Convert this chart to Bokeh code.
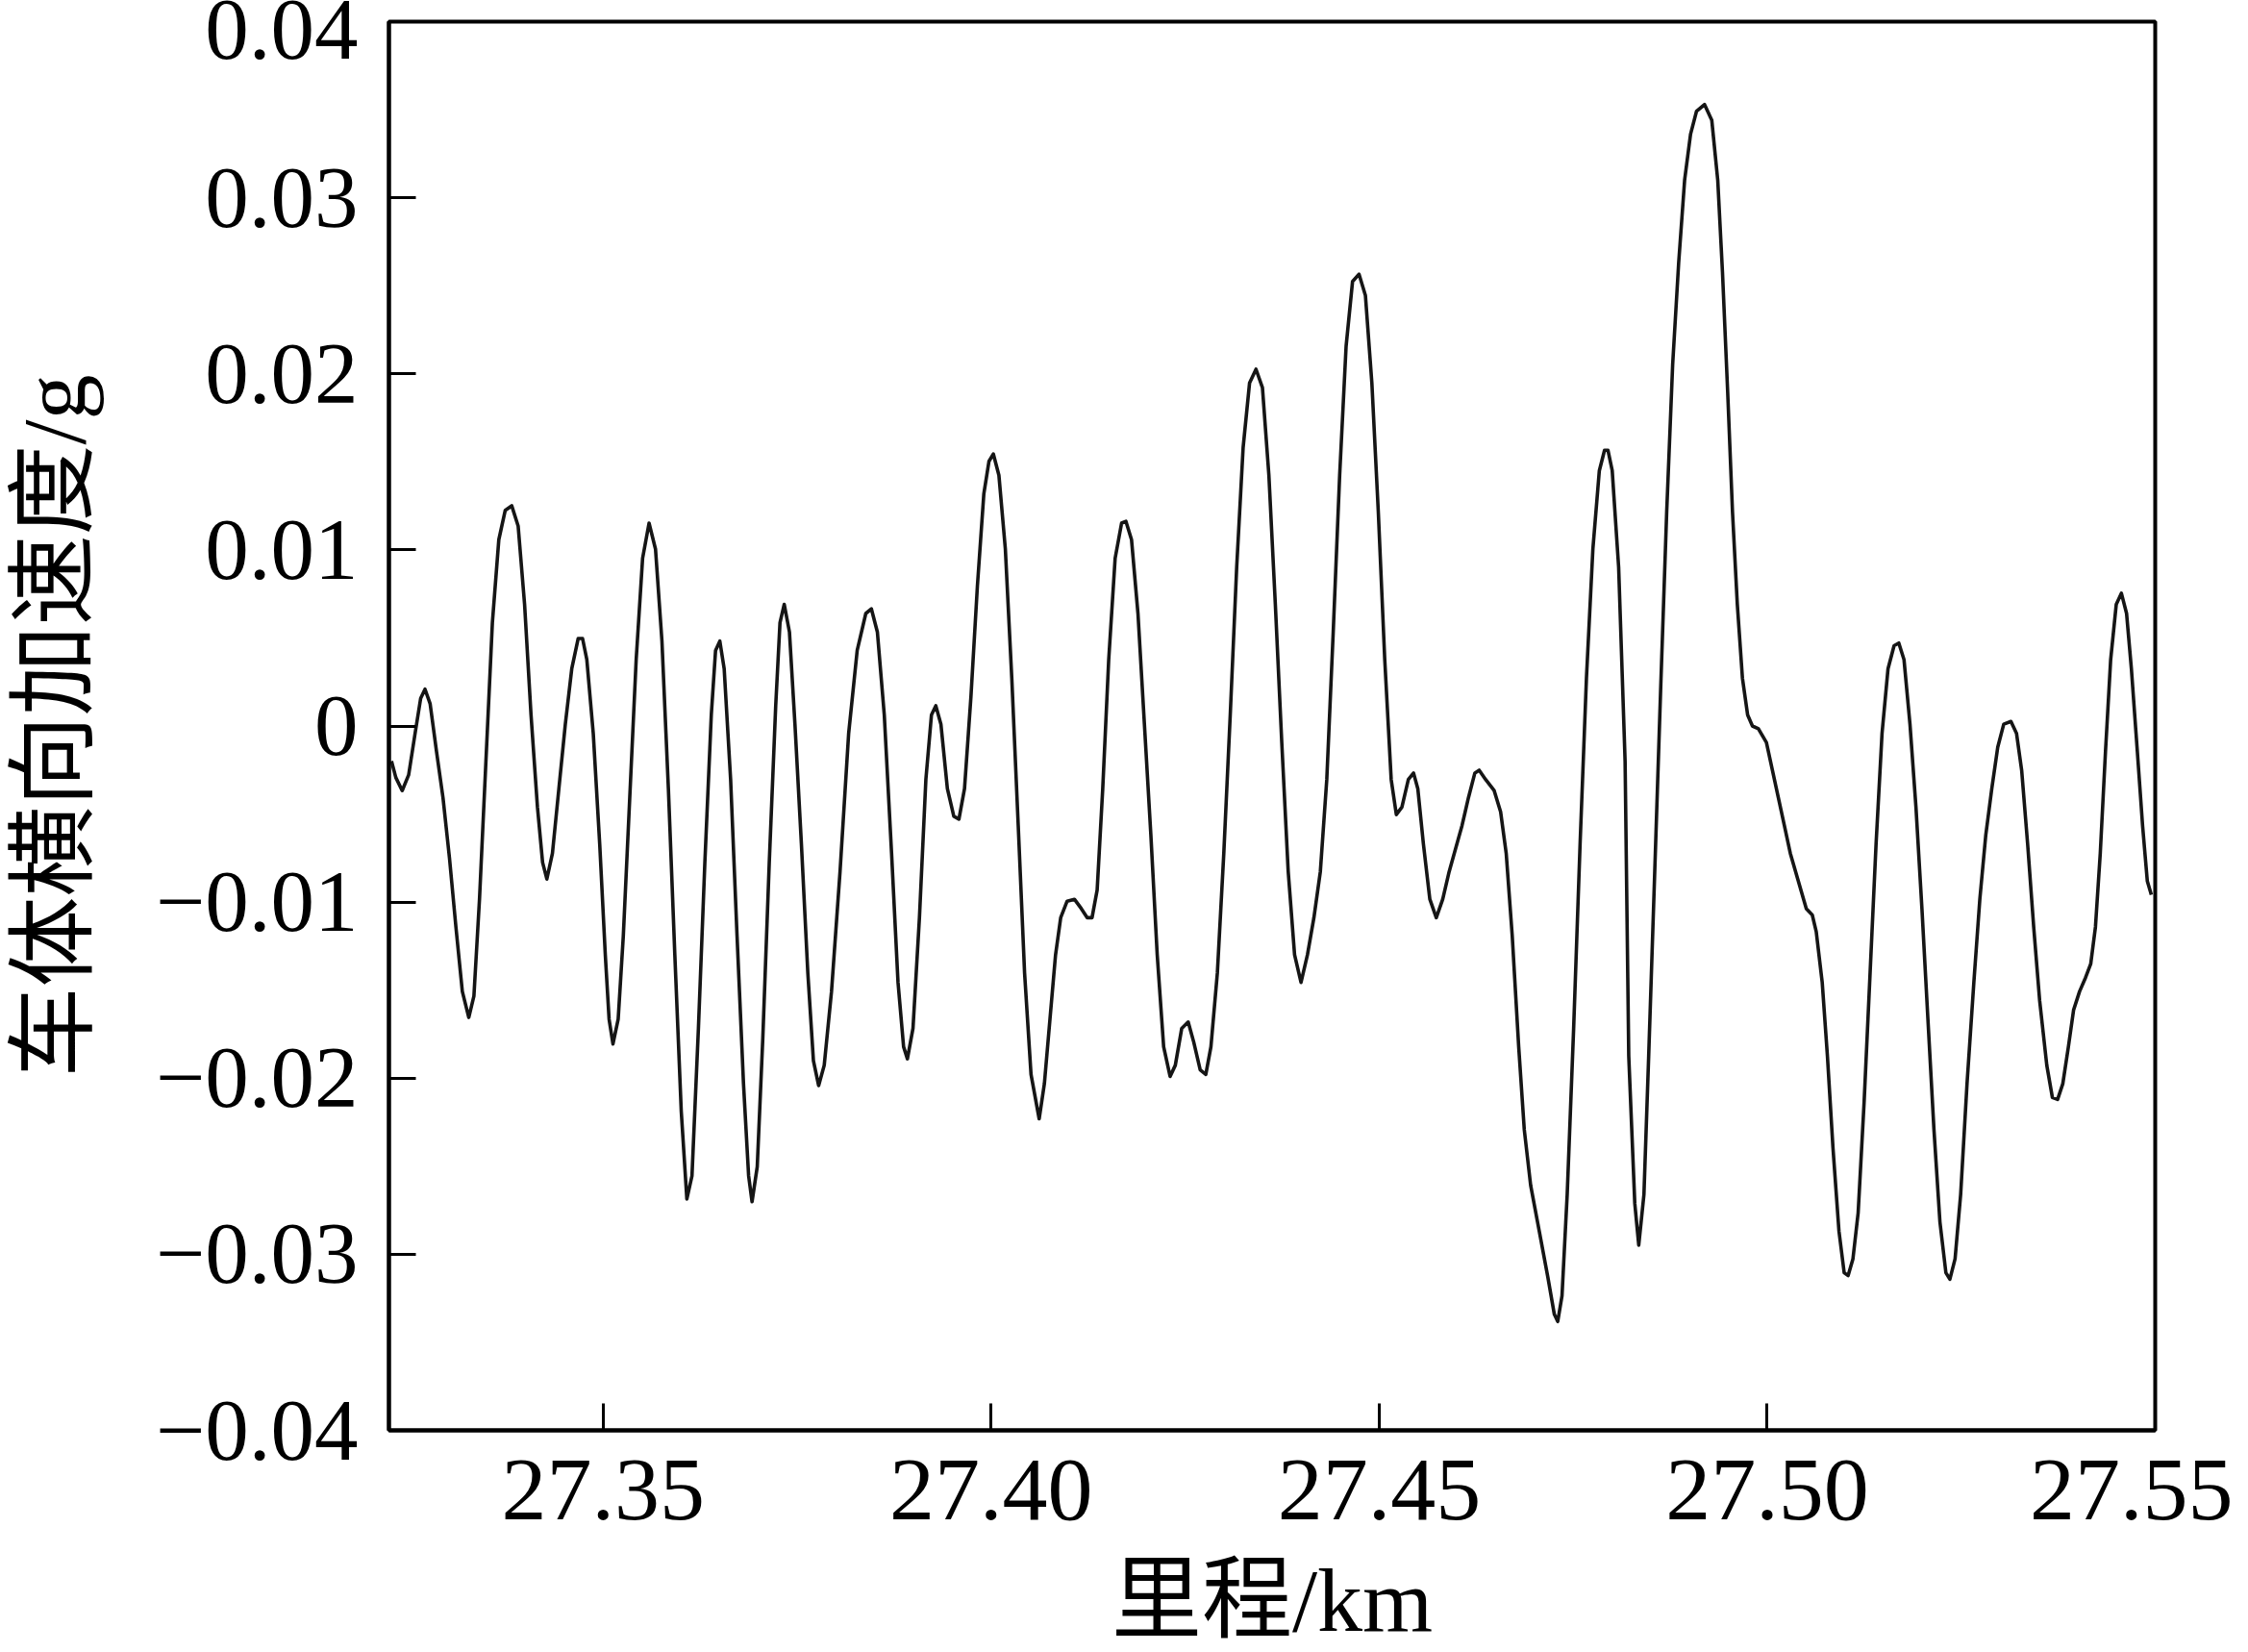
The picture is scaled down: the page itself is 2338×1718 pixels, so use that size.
from bokeh.plotting import figure
from bokeh.models import Range1d, FixedTicker, CustomJSTickFormatter
from bokeh.embed import file_html
from bokeh.resources import INLINE

# ---- data ----
distance_km = [
    27.32273, 27.32329, 27.32411, 27.32494, 27.32577, 27.32649, 27.32705, 27.32771, 27.32854, 27.32937,
    27.33020, 27.33103, 27.33186, 27.33269, 27.33335, 27.33407, 27.33490, 27.33573, 27.33656, 27.33739,
    27.33822, 27.33905, 27.33988, 27.34071, 27.34154, 27.34220, 27.34275, 27.34347, 27.34430, 27.34513,
    27.34596, 27.34679, 27.34735, 27.34790, 27.34873, 27.34956, 27.35028, 27.35077, 27.35127, 27.35194,
    27.35260, 27.35343, 27.35426, 27.35509, 27.35592, 27.35675, 27.35758, 27.35841, 27.35924, 27.36007,
    27.36079, 27.36145, 27.36228, 27.36311, 27.36394, 27.36449, 27.36504, 27.36560, 27.36643, 27.36726,
    27.36809, 27.36875, 27.36919, 27.36986, 27.37058, 27.37141, 27.37224, 27.37279, 27.37334, 27.37401,
    27.37472, 27.37555, 27.37638, 27.37710, 27.37777, 27.37849, 27.37943, 27.38053, 27.38164, 27.38274,
    27.38385, 27.38457, 27.38534, 27.38623, 27.38717, 27.38800, 27.38872, 27.38921, 27.38993, 27.39076,
    27.39159, 27.39231, 27.39287, 27.39353, 27.39436, 27.39519, 27.39585, 27.39657, 27.39740, 27.39823,
    27.39906, 27.39972, 27.40028, 27.40100, 27.40183, 27.40266, 27.40349, 27.40431, 27.40514,
    27.40619, 27.40686, 27.40758, 27.40830, 27.40896, 27.40979, 27.41073, 27.41162, 27.41239, 27.41300,
    27.41366, 27.41438, 27.41515, 27.41598, 27.41681, 27.41737, 27.41809, 27.41892, 27.41975, 27.42058,
    27.42140, 27.42223, 27.42306, 27.42373, 27.42456, 27.42539, 27.42611, 27.42694, 27.42766, 27.42832,
    27.42915, 27.42998, 27.43081, 27.43164, 27.43247, 27.43330, 27.43413, 27.43496, 27.43579, 27.43662,
    27.43745, 27.43828, 27.43910, 27.43993, 27.44076, 27.44159, 27.44242, 27.44325, 27.44408, 27.44491,
    27.44574, 27.44657, 27.44740, 27.44823, 27.44906, 27.44989, 27.45072, 27.45155, 27.45221, 27.45293,
    27.45376, 27.45443, 27.45498, 27.45570, 27.45653, 27.45736, 27.45819, 27.45902, 27.45985, 27.46068,
    27.46150, 27.46233, 27.46289, 27.46372, 27.46482, 27.46565, 27.46637, 27.46715, 27.46798, 27.46870,
    27.46952, 27.47063, 27.47174, 27.47257, 27.47301, 27.47356, 27.47423, 27.47506, 27.47589, 27.47671,
    27.47754, 27.47837, 27.47904, 27.47948, 27.48003, 27.48086, 27.48169,
    27.48216, 27.48294, 27.48345, 27.48412, 27.48473, 27.48551, 27.48628, 27.48705, 27.48782, 27.48859,
    27.48936, 27.49013, 27.49090, 27.49193, 27.49286, 27.49363, 27.49424, 27.49491, 27.49553, 27.49615,
    27.49681, 27.49748, 27.49810, 27.49887, 27.49990, 27.50067, 27.50144, 27.50221, 27.50298, 27.50401,
    27.50504, 27.50581, 27.50632, 27.50709, 27.50776, 27.50848, 27.50925, 27.50992, 27.51043, 27.51105,
    27.51172, 27.51249, 27.51326, 27.51403, 27.51480, 27.51557, 27.51635, 27.51696, 27.51763, 27.51840,
    27.51917, 27.51994, 27.52071, 27.52149, 27.52226, 27.52303, 27.52354, 27.52421, 27.52493, 27.52575,
    27.52663, 27.52740, 27.52817, 27.52894, 27.52971, 27.53048, 27.53141, 27.53213, 27.53279, 27.53356,
    27.53434, 27.53511, 27.53603, 27.53675, 27.53742, 27.53809, 27.53881, 27.53948, 27.54025, 27.54102,
    27.54169, 27.54230, 27.54292, 27.54359, 27.54426, 27.54498, 27.54564, 27.54631, 27.54693, 27.54770,
    27.54837, 27.54898, 27.54950,
]

accel_g = [
    -0.00199, -0.00293, -0.00367, -0.00278, -0.00042, 0.00157, 0.00209, 0.00126, -0.00147, -0.00408,
    -0.00749, -0.01141, -0.01508, -0.01655, -0.01534, -0.00984, -0.00199, 0.00586, 0.01058, 0.01225,
    0.01251, 0.01136, 0.00691, 0.00063, -0.00461, -0.00775, -0.00869, -0.00723, -0.00356, 0.00010,
    0.00325, 0.00497, 0.00497, 0.00377, -0.00042, -0.00670, -0.01299, -0.01665, -0.01806, -0.01665,
    -0.01194, -0.00408, 0.00377, 0.00953, 0.01152, 0.01005, 0.00482, -0.00356, -0.01299, -0.02189,
    -0.02686, -0.02555, -0.01717, -0.00775, 0.00063, 0.00429, 0.00482, 0.00325, -0.00304, -0.01194,
    -0.02032, -0.02555, -0.02702, -0.02503, -0.01770, -0.00775, 0.00115, 0.00586, 0.00691, 0.00534,
    0.00010, -0.00670, -0.01403, -0.01901, -0.02042, -0.01927, -0.01508, -0.00827, -0.00042, 0.00429,
    0.00639, 0.00665, 0.00534, 0.00063, -0.00723, -0.01456, -0.01822, -0.01890, -0.01717, -0.01089,
    -0.00304, 0.00063, 0.00115, 0.00010, -0.00356, -0.00513, -0.00529, -0.00356, 0.00168, 0.00796,
    0.01319, 0.01503, 0.01545, 0.01424, 0.01005, 0.00272, -0.00565, -0.01403, -0.01979,
    -0.02231, -0.02032, -0.01665, -0.01299, -0.01089, -0.00995, -0.00984, -0.01037, -0.01089, -0.01089,
    -0.00932, -0.00356, 0.00377, 0.00953, 0.01152, 0.01162, 0.01058, 0.00639, 0.00010, -0.00618,
    -0.01299, -0.01822, -0.01990, -0.01927, -0.01717, -0.01681, -0.01796, -0.01953, -0.01979, -0.01822,
    -0.01403, -0.00723, 0.00063, 0.00901, 0.01581, 0.01948, 0.02026, 0.01922, 0.01424, 0.00691,
    -0.00094, -0.00827, -0.01299, -0.01456, -0.01299, -0.01089, -0.00827, -0.00304, 0.00534, 0.01424,
    0.02157, 0.02524, 0.02566, 0.02445, 0.01948, 0.01215, 0.00377, -0.00304, -0.00503, -0.00461,
    -0.00304, -0.00267, -0.00356, -0.00670, -0.00984, -0.01089, -0.00984, -0.00827, -0.00696, -0.00565,
    -0.00408, -0.00267, -0.00251, -0.00304, -0.00367, -0.00487, -0.00723, -0.01194, -0.01822, -0.02293,
    -0.02608, -0.02869, -0.03131, -0.03341, -0.03382, -0.03236, -0.02660, -0.01717, -0.00670, 0.00272,
    0.01005, 0.01450, 0.01566, 0.01566, 0.01450, 0.00901, -0.00199,
    -0.01874, -0.02712, -0.02948, -0.02660, -0.01874, -0.00827, 0.00220, 0.01215, 0.02053, 0.02628,
    0.03100, 0.03362, 0.03492, 0.03529, 0.03440, 0.03100, 0.02576, 0.01895, 0.01215, 0.00691,
    0.00272, 0.00063, 0.00000, -0.00016, -0.00094, -0.00251, -0.00408, -0.00565, -0.00723, -0.00880,
    -0.01037, -0.01073, -0.01168, -0.01456, -0.01874, -0.02398, -0.02869, -0.03105, -0.03121, -0.03026,
    -0.02765, -0.02136, -0.01403, -0.00670, -0.00042, 0.00325, 0.00456, 0.00471, 0.00377, 0.00010,
    -0.00461, -0.01037, -0.01665, -0.02293, -0.02817, -0.03105, -0.03142, -0.03026, -0.02660, -0.02032,
    -0.01456, -0.00984, -0.00618, -0.00356, -0.00120, 0.00010, 0.00026, -0.00042, -0.00251, -0.00670,
    -0.01141, -0.01560, -0.01927, -0.02110, -0.02121, -0.02032, -0.01822, -0.01613, -0.01508, -0.01429,
    -0.01351, -0.01141, -0.00723, -0.00147, 0.00377, 0.00691, 0.00754, 0.00639, 0.00325, -0.00147,
    -0.00565, -0.00880, -0.00958,
]

x_ticks = [27.35, 27.40, 27.45, 27.50, 27.55]
x_tick_labels = ["27.35", "27.40", "27.45", "27.50", "27.55"]
y_ticks = [-0.04, -0.03, -0.02, -0.01, 0.0, 0.01, 0.02, 0.03, 0.04]
y_tick_labels = ["\u22120.04", "\u22120.03", "\u22120.02", "\u22120.01", "0",
                 "0.01", "0.02", "0.03", "0.04"]
x_title = "里程/km"
y_title = "车体横向加速度/g"

# ---- figure ----
p = figure(width=2322, height=1718, output_backend="svg", toolbar_location=None,
           x_range=Range1d(27.3224, 27.55), y_range=Range1d(-0.04, 0.04),
           min_border_left=404, min_border_right=81, min_border_top=22,
           min_border_bottom=231)
p.background_fill_color = "white"
p.border_fill_color = "white"
p.grid.visible = False
p.outline_line_color = "black"
p.outline_line_width = 4

p.line(distance_km, accel_g, line_width=3.6, line_color="#151515", line_join="round")

fmt_code = """
const i = tvals.findIndex(t => Math.abs(t - tick) < 1e-9);
return i >= 0 ? tlabels[i] : '';
"""
p.xaxis[0].ticker = FixedTicker(ticks=x_ticks)
p.xaxis[0].formatter = CustomJSTickFormatter(args=dict(tvals=x_ticks, tlabels=x_tick_labels), code=fmt_code)
p.yaxis[0].ticker = FixedTicker(ticks=y_ticks)
p.yaxis[0].formatter = CustomJSTickFormatter(args=dict(tvals=y_ticks, tlabels=y_tick_labels), code=fmt_code)

TITLE_FONT = "'Liberation Serif', 'Noto Sans CJK SC'"

for ax in (p.xaxis[0], p.yaxis[0]):
    ax.axis_line_width = 4
    ax.axis_line_color = "black"
    ax.major_tick_in = 28
    ax.major_tick_out = 0
    ax.major_tick_line_width = 3
    ax.major_tick_line_color = "black"
    ax.minor_tick_in = 0
    ax.minor_tick_out = 0
    ax.major_label_text_font = "Liberation Serif"
    ax.major_label_text_color = "black"
    ax.axis_label_text_font = TITLE_FONT
    ax.axis_label_text_font_style = "normal"
    ax.axis_label_text_color = "black"

p.xaxis[0].axis_label = x_title
p.xaxis[0].major_label_text_font_size = "94px"
p.xaxis[0].major_label_standoff = 31
p.xaxis[0].axis_label_text_font_size = "94px"
p.xaxis[0].axis_label_standoff = 29

p.yaxis[0].axis_label = y_title
p.yaxis[0].major_label_text_font_size = "91px"
p.yaxis[0].major_label_standoff = 32
p.yaxis[0].axis_label_text_font_size = "94px"
p.yaxis[0].axis_label_standoff = 51

open("out.html", "w").write(file_html(p, INLINE))
